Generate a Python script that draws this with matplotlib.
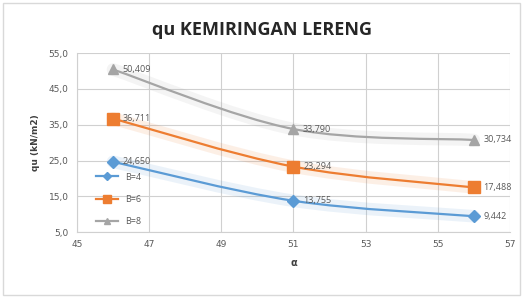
import numpy as np
import matplotlib.pyplot as plt
from matplotlib.path import Path
from matplotlib.patches import PathPatch

# data
alpha = [46, 51, 56]
qu_b4 = [24.650, 13.755, 9.442]
qu_b6 = [36.711, 23.294, 17.488]
qu_b8 = [50.409, 33.790, 30.734]
series_names = ['B=4', 'B=6', 'B=8']
y_ticks = [5, 15, 25, 35, 45, 55]
x_ticks = [45, 47, 49, 51, 53, 55, 57]

colors = ['#5B9BD5', '#ED7D31', '#A5A5A5']
markers = ['D', 's', '^']
msizes = [6, 8, 7]


def smooth_path(xs, ys):
    # excel-like smoothed line: bezier through the points
    pts = np.column_stack([xs, ys]).astype(float)
    n = len(pts)
    verts = [pts[0]]
    codes = [Path.MOVETO]
    for i in range(n - 1):
        p0 = pts[i - 1] if i > 0 else pts[i]
        p1 = pts[i]
        p2 = pts[i + 1]
        p3 = pts[i + 2] if i + 2 < n else pts[i + 1]
        c1 = p1 + (p2 - p0) / 6
        c2 = p2 - (p3 - p1) / 6
        verts += [c1, c2, p2]
        codes += [Path.CURVE4] * 3
    return Path(verts, codes)


fig = plt.figure(figsize=(5.23, 2.98), dpi=100)
fig.patch.set_facecolor('white')
ax = fig.add_axes([0.147, 0.221, 0.828, 0.601])

plt.rcParams['font.family'] = ['Open Sans', 'DejaVu Sans']

for ys, name, c, m, ms in zip([qu_b4, qu_b6, qu_b8], series_names, colors, markers, msizes):
    # soft glow
    ax.add_patch(PathPatch(smooth_path(alpha, ys), facecolor='none', edgecolor=c,
                           lw=9, alpha=0.12, capstyle='round', zorder=2))
    ax.add_patch(PathPatch(smooth_path(alpha, ys), facecolor='none', edgecolor=c,
                           lw=1.6, zorder=3))
    ax.plot(alpha, ys, linestyle='none', marker=m, color=c, markersize=ms, zorder=4)
    ax.plot([], [], color=c, marker=m, markersize=ms - 2, lw=1.6, label=name)
    for x, y in zip(alpha, ys):
        ax.annotate(f'{y:.3f}'.replace('.', ','), (x, y), xytext=(7, 0),
                    textcoords='offset points', va='center', ha='left',
                    fontsize=6.5, color='#595959', zorder=5)

ax.set_xlim(45, 57)
ax.set_ylim(5, 55)
ax.set_xticks(x_ticks)
ax.set_yticks(y_ticks)
ax.set_yticklabels([f'{v:.1f}'.replace('.', ',') for v in y_ticks])
ax.tick_params(labelsize=6.5, colors='#595959', length=0, pad=6)
ax.grid(True, color='#D0D0D0', lw=0.8)
ax.set_axisbelow(True)
for s in ['top', 'right']:
    ax.spines[s].set_visible(False)
for s in ['left', 'bottom']:
    ax.spines[s].set_color('#D0D0D0')

ax.set_xlabel('α', fontsize=7, fontweight='bold', color='#404040', labelpad=6)
ax.set_ylabel('qu (kN/m2)', fontsize=6.5, fontweight='bold', color='#404040', labelpad=6)

leg = ax.legend(loc='lower left', bbox_to_anchor=(0.03, 0.0), frameon=False,
                fontsize=6.5, labelcolor='#595959', handlelength=2.4,
                labelspacing=1.45, borderaxespad=0.3)

fig.suptitle('qu KEMIRINGAN LERENG', fontsize=13, fontweight='bold',
             color='#262626', y=0.93)

# outer chart border
fig.add_artist(plt.Rectangle((0.005, 0.01), 0.99, 0.98, transform=fig.transFigure,
                             fill=False, edgecolor='#D9D9D9', lw=1))

fig.savefig('out.png', dpi=100)
